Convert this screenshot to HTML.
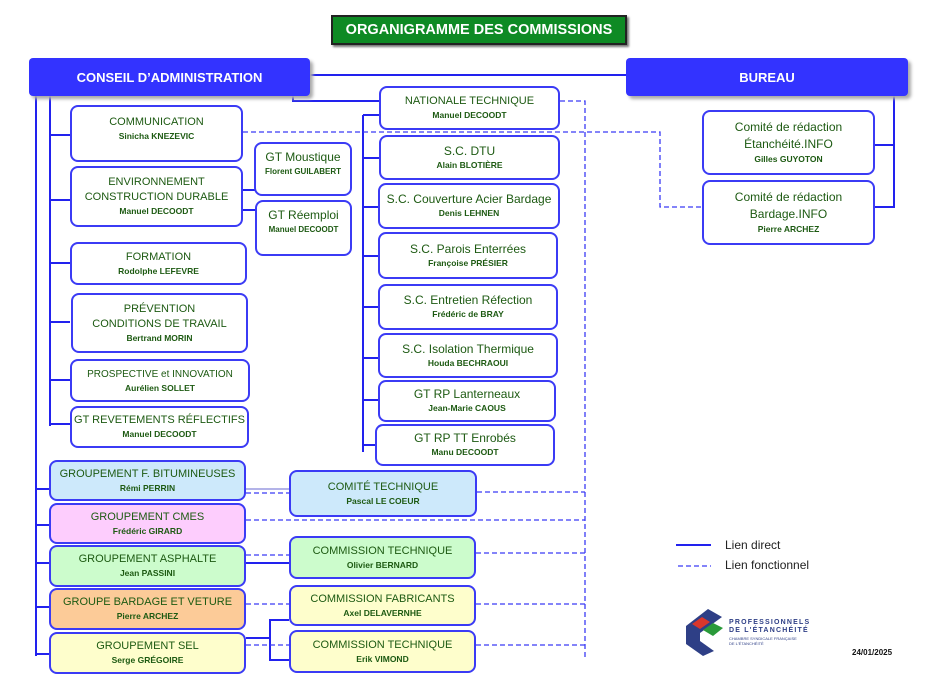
<!DOCTYPE html>
<html><head><meta charset="utf-8"><style>
body{margin:0;width:946px;height:676px;background:#fff;position:relative;overflow:hidden;font-family:"Liberation Sans",sans-serif}
.b{position:absolute;box-sizing:border-box;border:2px solid #3b3bf5;border-radius:8px;background:#fff;display:flex;flex-direction:column;align-items:center;justify-content:center;text-align:center;color:#1d5a12;font-size:11px;line-height:15px}
.b i{font-style:normal;font-weight:bold;font-size:8.5px;line-height:13px}
.h{position:absolute;background:#3333ff;color:#fff;font-weight:bold;font-size:13px;display:flex;align-items:center;justify-content:center;border-radius:4px;box-shadow:3px 3px 3px #aaa}
svg{position:absolute;left:0;top:0}
</style></head><body>
<svg width="946" height="676">
<g stroke="#2222ee" stroke-width="2" fill="none">
<line x1="310" y1="75" x2="626" y2="75"/>
<polyline points="293,96 293,101 379,101"/>
<line x1="50" y1="78" x2="50" y2="426"/>
<line x1="36" y1="96" x2="36" y2="656"/>
<line x1="50" y1="135" x2="70" y2="135"/><line x1="50" y1="200" x2="70" y2="200"/>
<line x1="50" y1="263" x2="70" y2="263"/><line x1="50" y1="322" x2="70" y2="322"/>
<line x1="50" y1="380" x2="70" y2="380"/><line x1="50" y1="424" x2="70" y2="424"/>
<line x1="243" y1="190" x2="255" y2="190"/><line x1="243" y1="210" x2="255" y2="210"/>
<line x1="363" y1="115" x2="363" y2="452"/>
<line x1="363" y1="115" x2="379" y2="115"/><line x1="363" y1="158" x2="379" y2="158"/>
<line x1="363" y1="207" x2="378" y2="207"/><line x1="363" y1="256" x2="378" y2="256"/>
<line x1="363" y1="307" x2="378" y2="307"/><line x1="363" y1="358" x2="378" y2="358"/>
<line x1="363" y1="400" x2="378" y2="400"/><line x1="363" y1="445" x2="375" y2="445"/>
<polyline points="894,94 894,207 875,207"/><line x1="875" y1="145" x2="894" y2="145"/>
<line x1="36" y1="489" x2="49" y2="489"/><line x1="36" y1="525" x2="49" y2="525"/>
<line x1="36" y1="563" x2="49" y2="563"/><line x1="36" y1="607" x2="49" y2="607"/><line x1="36" y1="654" x2="49" y2="654"/>
<line x1="246" y1="563" x2="289" y2="563"/>
<polyline points="246,638 270,638"/><polyline points="289,620 270,620 270,660 289,660"/>
<line x1="676" y1="545" x2="711" y2="545"/>
</g>
<line x1="246" y1="489" x2="289" y2="489" stroke="#9a9ae0" stroke-width="1.5"/>
<g stroke="#3b3bf5" stroke-width="1.3" fill="none" stroke-dasharray="5,3">
<polyline points="560,101 585,101 585,660"/>
<polyline points="243,132 660,132 660,207 702,207"/>
<line x1="246" y1="493" x2="289" y2="493"/><line x1="477" y1="492" x2="585" y2="492"/>
<line x1="246" y1="520" x2="585" y2="520"/>
<line x1="246" y1="555" x2="289" y2="555"/><line x1="476" y1="553" x2="585" y2="553"/>
<line x1="246" y1="604" x2="289" y2="604"/><line x1="476" y1="604" x2="585" y2="604"/>
<line x1="246" y1="645" x2="289" y2="645"/><line x1="476" y1="645" x2="585" y2="645"/>
<line x1="678" y1="566" x2="711" y2="566"/>
</g>
<polygon points="686,626 708,609 722,617 700,633 700,641 714,651 703,656 686,644" fill="#2e3f86"/>
<polygon points="692,624 702,617 710,622 700,629" fill="#d8372c"/>
<polygon points="703,630 713,623 723,628 713,636" fill="#2a9a3a"/>
</svg>
<div style="position:absolute;left:331px;top:15px;width:296px;height:30px;background:#0e8a24;border:2px solid #222;box-sizing:border-box;color:#fff;font-weight:bold;font-size:14.5px;white-space:nowrap;display:flex;align-items:center;justify-content:center;box-shadow:2px 2px 2px #777">ORGANIGRAMME DES COMMISSIONS</div>
<div class="h" style="left:29px;top:58px;width:281px;height:38px">CONSEIL D’ADMINISTRATION</div>
<div class="h" style="left:626px;top:58px;width:282px;height:38px">BUREAU</div>

<div class="b" style="left:70px;top:105px;width:173px;height:57px;justify-content:flex-start;padding-top:8px">COMMUNICATION<i>Sinicha KNEZEVIC</i></div>
<div class="b" style="left:70px;top:166px;width:173px;height:61px">ENVIRONNEMENT<br>CONSTRUCTION DURABLE<i>Manuel DECOODT</i></div>
<div class="b" style="left:254px;top:142px;width:98px;height:54px;justify-content:flex-start;padding-top:6px;font-size:12px">GT Moustique<i style="font-size:8px">Florent GUILABERT</i></div>
<div class="b" style="left:255px;top:200px;width:97px;height:56px;justify-content:flex-start;padding-top:6px;font-size:12px">GT Réemploi<i style="font-size:8px">Manuel DECOODT</i></div>
<div class="b" style="left:70px;top:242px;width:177px;height:43px">FORMATION<i>Rodolphe LEFEVRE</i></div>
<div class="b" style="left:71px;top:293px;width:177px;height:60px">PRÉVENTION<br>CONDITIONS DE TRAVAIL<i>Bertrand MORIN</i></div>
<div class="b" style="left:70px;top:359px;width:180px;height:43px;font-size:10px">PROSPECTIVE et INNOVATION<i>Aurélien SOLLET</i></div>
<div class="b" style="left:70px;top:406px;width:179px;height:42px">GT REVETEMENTS RÉFLECTIFS<i>Manuel DECOODT</i></div>

<div class="b" style="left:379px;top:86px;width:181px;height:44px">NATIONALE TECHNIQUE<i>Manuel DECOODT</i></div>
<div class="b" style="left:379px;top:135px;width:181px;height:45px;font-size:12px">S.C. DTU<i>Alain BLOTIÈRE</i></div>
<div class="b" style="left:378px;top:183px;width:182px;height:46px;font-size:12px">S.C. Couverture Acier Bardage<i>Denis LEHNEN</i></div>
<div class="b" style="left:378px;top:232px;width:180px;height:47px;font-size:12px">S.C. Parois Enterrées<i>Françoise PRÉSIER</i></div>
<div class="b" style="left:378px;top:284px;width:180px;height:46px;font-size:12px">S.C. Entretien Réfection<i>Frédéric de BRAY</i></div>
<div class="b" style="left:378px;top:333px;width:180px;height:45px;font-size:12px">S.C. Isolation Thermique<i>Houda BECHRAOUI</i></div>
<div class="b" style="left:378px;top:380px;width:178px;height:42px;font-size:12px">GT RP Lanterneaux<i>Jean-Marie CAOUS</i></div>
<div class="b" style="left:375px;top:424px;width:180px;height:42px;font-size:12px">GT RP TT Enrobés<i>Manu DECOODT</i></div>

<div class="b" style="left:702px;top:110px;width:173px;height:65px;font-size:12px;line-height:17px">Comité de rédaction<br>Étanchéité.INFO<i>Gilles GUYOTON</i></div>
<div class="b" style="left:702px;top:180px;width:173px;height:65px;font-size:12px;line-height:17px">Comité de rédaction<br>Bardage.INFO<i>Pierre ARCHEZ</i></div>

<div class="b" style="left:49px;top:460px;width:197px;height:41px;background:#cde9fb">GROUPEMENT F. BITUMINEUSES<i>Rémi PERRIN</i></div>
<div class="b" style="left:49px;top:503px;width:197px;height:41px;background:#fdcdfd">GROUPEMENT CMES<i>Frédéric GIRARD</i></div>
<div class="b" style="left:49px;top:545px;width:197px;height:42px;background:#ccfccc">GROUPEMENT ASPHALTE<i>Jean PASSINI</i></div>
<div class="b" style="left:49px;top:588px;width:197px;height:42px;background:#fccb98">GROUPE BARDAGE ET VETURE<i>Pierre ARCHEZ</i></div>
<div class="b" style="left:49px;top:632px;width:197px;height:42px;background:#fefecc">GROUPEMENT SEL<i>Serge GRÉGOIRE</i></div>

<div class="b" style="left:289px;top:470px;width:188px;height:47px;background:#cde9fb">COMITÉ TECHNIQUE<i>Pascal LE COEUR</i></div>
<div class="b" style="left:289px;top:536px;width:187px;height:43px;background:#ccfccc">COMMISSION TECHNIQUE<i>Olivier BERNARD</i></div>
<div class="b" style="left:289px;top:585px;width:187px;height:41px;background:#fefecc">COMMISSION FABRICANTS<i>Axel DELAVERNHE</i></div>
<div class="b" style="left:289px;top:630px;width:187px;height:43px;background:#fefecc">COMMISSION TECHNIQUE<i>Erik VIMOND</i></div>

<div style="position:absolute;left:725px;top:538px;font-size:12px;color:#222">Lien direct</div>
<div style="position:absolute;left:725px;top:558px;font-size:12px;color:#222">Lien fonctionnel</div>
<div style="position:absolute;left:729px;top:619px;font-size:7px;font-weight:bold;color:#2e3f86;letter-spacing:1.2px;line-height:8px">PROFESSIONNELS<br>DE L'ÉTANCHÉITÉ</div>
<div style="position:absolute;left:729px;top:636px;font-size:4px;color:#2e3f86;line-height:5px">CHAMBRE SYNDICALE FRANÇAISE<br>DE L'ÉTANCHÉITÉ</div>
<div style="position:absolute;left:852px;top:648px;font-size:8px;font-weight:bold;color:#111">24/01/2025</div>
</body></html>
